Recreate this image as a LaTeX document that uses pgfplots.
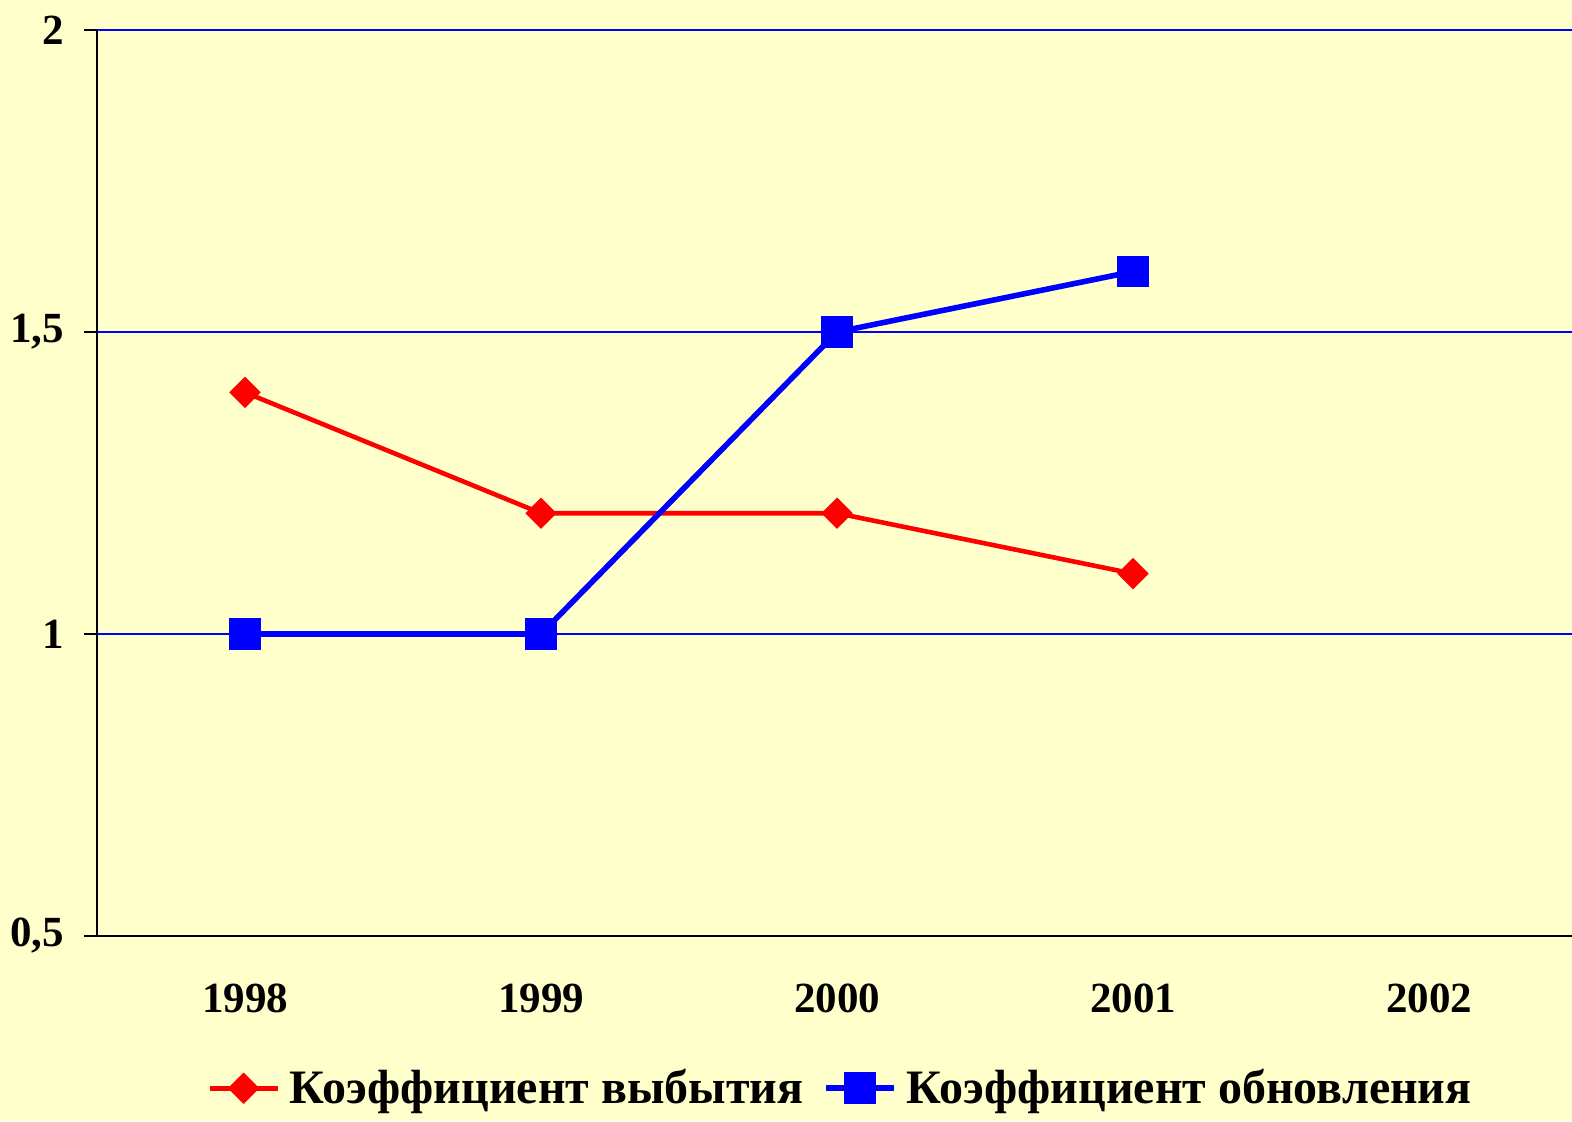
\documentclass[border=0pt]{standalone}
\usepackage{pgfplots}
\pgfplotsset{compat=1.18}
\usepackage{fontspec}
\setmainfont{Liberation Serif}
\definecolor{bg}{HTML}{FFFFCC}
\begin{document}
\begin{tikzpicture}
\fill[bg] (0,0) rectangle (786pt,560.5pt);
\begin{axis}[
  at={(48.5pt,92.5pt)}, anchor=south west,
  scale only axis, width=740pt, height=453pt,
  xmin=-0.5, xmax=4.5, ymin=0.5, ymax=2,
  axis x line*=bottom, axis y line*=left,
  axis line style={-, black, line width=0.9pt},
  xtick={0,1,2,3,4}, xticklabels={1998,1999,2000,2001,2002},
  minor xtick={-0.5,0.5,1.5,2.5,3.5,4.5},
  ytick={0.5,1,1.5,2}, yticklabels={{0,5},1,{1,5},2},
  x tick style={draw=none},
  minor x tick style={black, line width=0.9pt},
  y tick style={black, line width=0.9pt},
  tick align=outside, major tick length=6.5pt, minor tick length=6pt,
  ymajorgrids, grid style={blue, line width=0.8pt},
  ticklabel style={font=\bfseries\fontsize{21.5}{25}\selectfont},
  /pgf/number format/assume math mode=true,
  xticklabel style={yshift=-14pt},
  yticklabel style={xshift=-6.5pt},
  legend style={at={(0.503,-0.168)}, anchor=center, draw=none, fill=none,
    font=\bfseries\fontsize{24}{29}\selectfont, legend columns=2,
    /tikz/every even column/.append style={column sep=8pt},
    /tikz/every odd column/.append style={column sep=3pt}},
  legend image code/.code={\draw[mark repeat=2,mark phase=2] plot coordinates {(0pt,0pt)(17pt,0pt)(34pt,0pt)};},
  clip=false,
]
\addplot[red, line width=2.3pt, mark=square*, mark size=4.4pt, mark options={rotate=45, solid}]
  coordinates {(0,1.4) (1,1.2) (2,1.2) (3,1.1)};
\addlegendentry{Коэффициент выбытия}
\addplot[blue, line width=2.8pt, mark=square*, mark size=6.5pt, mark options={solid}]
  coordinates {(0,1.0) (1,1.0) (2,1.5) (3,1.6)};
\addlegendentry{Коэффициент обновления}
\end{axis}
\pgfresetboundingbox
\path (0,0) rectangle (786pt,560.5pt);
\end{tikzpicture}
\end{document}
